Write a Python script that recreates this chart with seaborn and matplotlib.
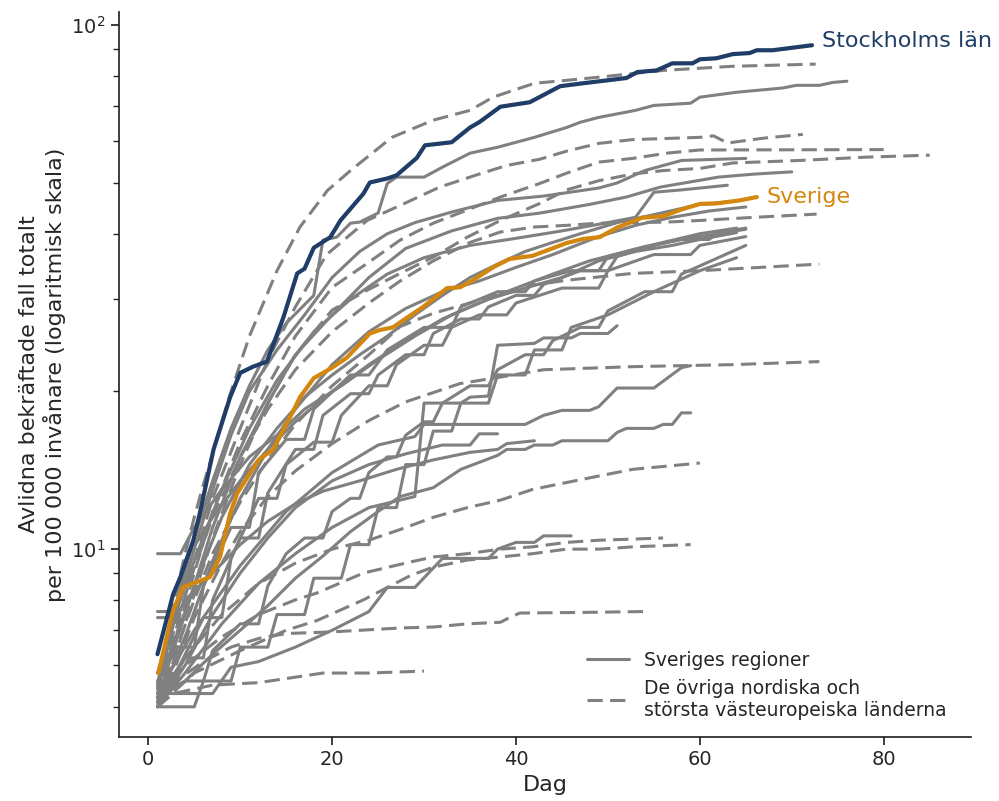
import matplotlib
matplotlib.use("Agg")
import matplotlib.pyplot as plt
from matplotlib.lines import Line2D
from matplotlib.ticker import NullFormatter
import pandas as pd
import seaborn as sns

# (dag, avlidna per 100 000)

stockholm = [(1, 6.3), (2.7, 8.2), (3.5, 8.85), (4.9, 10.4), (5.6, 11.7), (7.1, 15.5), (8.9, 19.5),
             (10, 21.7), (11.4, 22.3), (12.9, 22.8), (14.7, 27.7), (16.2, 33.6), (17, 34.3), (18, 37.6),
             (19.8, 39.4), (20.9, 42.4), (23.4, 47.7), (24.1, 50.1), (26, 51), (27, 51.7), (29.2, 55.8),
             (30.1, 59), (33, 59.8), (35, 63.8), (36, 65.3), (38.3, 69.9), (41.5, 71.3), (44.8, 76.5),
             (47.3, 77.5), (52, 79.3), (53.2, 81.4), (55.3, 82), (57, 84.6), (59.2, 84.6), (60, 86.1),
             (61.8, 86.5), (63.6, 88.1), (65.4, 88.5), (66.2, 89.6), (67.9, 89.6), (70.5, 90.8), (72.2, 91.6)]

sverige = [(1.1, 5.8), (2.7, 7.66), (3.8, 8.46), (6.7, 8.84), (7.8, 9.66), (8.9, 11.7), (9.7, 12.8),
           (12, 14.8), (13.6, 15.5), (15.8, 18.4), (16.5, 19.5), (18, 21.2), (20, 22.2), (21.6, 23.2),
           (24.1, 25.8), (25.2, 26.2), (26.6, 26.5), (28.2, 27.7), (29.9, 29), (32.5, 31.5), (33.9, 31.6),
           (35.3, 32.6), (37.5, 34.5), (39.3, 35.8), (41.8, 36.3), (43.6, 37.3), (45.5, 38.4), (47.3, 39.1),
           (49.1, 39.4), (51, 41.1), (53.7, 42.9), (56, 43.2), (58, 44.5), (60, 45.6), (61.8, 45.7),
           (64.3, 46.3), (66.2, 47)]

# Sveriges regioner (heldragna)
reg_1 = [(1, 5.5), (3, 7.8), (5, 10.5), (7, 13.5), (9, 17), (11, 20.5), (13, 24), (15, 27), (18, 30.5),
         (19, 38.9), (20.5, 39.4), (22, 41.9), (23, 42.1), (25, 43.8), (26, 49.9), (27, 51.3), (30, 51.3),
         (32, 53.6), (35, 57), (38, 58.5), (42, 61.1), (45.5, 63.8), (47, 65.3), (49, 66.7), (53, 68.8),
         (55, 70.3), (59, 71), (60, 72.9), (64, 74.5), (69, 75.9), (70.5, 76.8), (73, 76.8), (74.5, 77.8),
         (76, 78.2)]
reg_2 = [(1, 5.4), (3, 7.5), (5, 10), (7, 13), (9, 16.5), (11, 20), (14, 24), (17, 28), (20, 33), (23, 37),
         (26, 40), (29, 42), (33, 44), (38, 46.3), (43, 47.2), (49, 48.9), (51, 50), (54, 52.8), (58, 55.2),
         (65, 55.7)]
reg_3 = [(1, 5.2), (4, 7.5), (7, 11), (10, 15), (13, 19), (16, 23.5), (20, 28), (24, 33), (28, 37.5),
         (33, 40.5), (38, 42.8), (42.6, 43.8), (48, 45.5), (52, 47), (55.7, 49.1), (62, 51.3), (66, 52),
         (70, 52.5)]
reg_4 = [(1, 5.8), (3, 7.6), (5, 9.5), (8, 13), (11, 17), (14, 21), (18, 26), (22, 30), (26, 33.5),
         (30, 36), (35, 38), (40, 39.2), (45, 40.5), (50, 42), (53, 43), (55, 48), (58, 48.5), (63, 49.5)]
reg_5 = [(1, 5.1), (4, 6.8), (7, 9.5), (10, 12.5), (13, 15.5), (16, 18.5), (20, 22.5), (24, 26),
         (28, 28.8), (32, 31), (36, 32.5), (40, 34.5), (44, 36.5), (49, 39.5), (53, 41.5), (57, 43),
         (61, 44.2), (65, 45)]
reg_6 = [(1, 5.6), (3, 6.5), (5, 6.5), (6, 8.5), (9, 11), (11, 11), (12, 14), (15, 16.2), (17, 16.2),
         (18, 18.5), (22, 21.5), (24, 21.5), (26, 24), (30, 26.5), (33, 26.5), (34, 29), (38, 31), (41, 31),
         (42, 32.5), (46, 34), (49, 34), (50, 36.2), (54, 37.8), (58, 39), (61, 39), (62, 40.2), (65, 41)]
reg_7 = [(1, 7.6), (3, 7.6), (4, 9.5), (7, 11.5), (10, 13.5), (13, 15.5), (16, 17.5), (20, 20),
         (24, 22.5), (28, 25), (32, 27.5), (36, 29.5), (40, 31.5), (44, 33.5), (48, 35.5), (52, 37),
         (56, 38.5), (60, 40), (64, 41)]
reg_8 = [(1, 5.0), (4, 5.8), (8, 7.2), (12, 8.6), (16, 9.8), (20, 11), (24, 12), (29, 12.6), (30, 19),
         (34, 19), (35, 19.5), (37, 19.6), (38, 24.5), (42, 24.7), (43, 25.3), (46, 25.3), (47, 25.8),
         (50, 25.8), (51, 26.7)]
reg_9 = [(1, 5.2), (4, 5.6), (7, 6.3), (10, 7), (13, 7.8), (16, 8.8), (19, 9.7), (22, 10.8), (25, 11.8),
         (27.4, 12.6), (31, 13.1), (34, 14.2), (38, 15.1), (39, 15.5), (41, 15.5), (42, 15.8), (44, 15.8),
         (45, 16.1), (50, 16.1), (51, 16.7), (52, 17), (55, 17), (56, 17.3), (57, 17.3), (58, 18.2),
         (59, 18.2)]
reg_10 = [(1, 5.3), (7, 5.3), (9, 5.95), (12, 6.1), (16, 6.5), (20, 7), (24, 7.6), (26, 8.45), (29, 8.45),
          (32, 9.6), (37, 9.6), (38, 10), (40, 10.3), (42, 10.3), (43, 10.6), (46, 10.6)]
reg_11 = [(1, 5.0), (4, 6), (7, 7.5), (10, 9), (13, 10.5), (16, 12), (20, 13.5), (24, 14.5), (28, 15.2),
          (32, 15.8), (35, 15.8), (36, 16.6), (38, 16.6)]
reg_12 = [(1, 7.4), (3, 7.4), (4, 8), (7, 9), (10, 10.2), (13, 11.3), (16, 12.2), (19, 12.9), (23, 13.5),
          (27, 14.2), (31, 14.8), (35, 15.3), (38, 15.5), (39, 15.9), (42, 16.1)]
reg_13 = [(1, 5.3), (5, 7), (10, 9.3), (15, 11.8), (20, 14), (25, 15.8), (29, 16.4), (30, 17.3), (41, 17.3),
          (43, 18), (45, 18.4), (48, 18.4), (49, 18.7), (51, 20.3), (55, 20.3), (58, 22.2), (59, 22.4)]
reg_14 = [(1, 9.8), (3.5, 9.8), (5, 11), (8, 13), (11, 15), (14, 16.5), (17, 18.5), (21, 20.5), (25, 23),
          (29, 25.5), (33, 28), (37, 30), (41, 31.5), (45, 33), (49, 35.5), (53, 37), (57, 38), (60, 39),
          (64, 40.2)]
reg_15 = [(1, 5.1), (3, 5.8), (6, 7.4), (8, 7.4), (9, 9.6), (12, 12.5), (14, 12.5), (15, 14.5), (18, 16),
          (20, 16), (21, 18), (24, 20.5), (26, 20.5), (27, 22.5), (30, 24.5), (32, 24.5), (33, 26.5),
          (36, 28), (39, 28), (40, 29.5), (45, 31.5), (49, 31.5), (50, 34), (55, 36.5), (59, 36.5),
          (60, 38), (65, 39.5)]
reg_16 = [(1, 5.0), (4, 6.2), (6, 6.2), (7, 8), (10, 10.5), (12, 10.5), (13, 12.8), (16, 15.5), (18, 15.5),
          (19, 18), (22, 19.8), (24, 19.8), (25, 21.5), (28, 23.5), (30, 23.5), (31, 25.8), (34, 27.5),
          (36, 27.5), (37, 29), (40, 30.5), (42, 30.5), (43, 32), (47, 34), (50, 34), (51, 36.2), (55, 38),
          (58, 39), (62, 40), (65, 40.8)]
reg_17 = [(1, 5.5), (3, 6.8), (5, 8.5), (8, 11.5), (11, 14.5), (14, 17), (17, 19.5), (20, 21.5),
          (23, 23.5), (26, 25.5), (29, 28), (32, 30.5), (35, 33), (38, 35), (41, 37), (44, 38.5), (47, 40),
          (51, 42), (55, 43.5), (60, 45.5), (63, 46)]
reg_18 = [(1, 5.2), (4, 5.6), (6, 5.6), (7, 6.4), (10, 7.2), (12, 7.2), (13, 8.5), (15, 9.8), (17, 10.5),
          (19, 10.5), (20, 11.8), (22, 12.5), (23, 12.5), (24, 14), (26, 15), (27, 15), (28, 16.5),
          (30, 17.5), (31, 17.5), (32, 19), (35, 20.5), (37, 20.5), (38, 22), (41, 23.5), (43, 23.5),
          (44, 25), (47, 26.5), (49, 26.5), (50, 28.5), (54, 31), (57, 31), (58, 33.5), (62, 36), (65, 38)]
reg_19 = [(1, 5.0), (5, 5.0), (6, 5.6), (9, 5.6), (10, 6.5), (13, 6.5), (14, 7.5), (17, 7.5), (18, 8.8),
          (21, 8.8), (22, 10.2), (24, 10.2), (25, 12), (27, 12), (28, 14.5), (30, 14.5), (31, 16.8),
          (33, 16.8), (34, 19), (37, 19), (38, 21.5), (41, 21.5), (42, 24), (45, 24), (46, 26.5), (50, 28),
          (55, 31), (60, 34), (64, 36)]

# övriga länder (streckade)
land_1 = [(1, 5.5), (2, 6.8), (3, 8.2), (4, 9.8), (5, 11.5), (6, 13.3), (7, 15.2), (8, 17.5), (9, 20),
          (11, 25.5), (14, 34), (16.5, 41.2), (19.5, 48.4), (22, 52.8), (26.5, 61.1), (31, 65.9),
          (35, 68.8), (37.5, 72.9), (42, 77.5), (45.5, 78.5), (49, 79.6), (56, 82), (63.5, 83.5),
          (72.6, 84.3)]
land_2 = [(1, 5.3), (3, 7), (5, 9.5), (7, 12.5), (10, 17), (13, 23), (16, 29), (19.4, 36.5), (23.8, 42.4),
          (27.4, 45.3), (31.7, 49.1), (36, 52), (39, 54), (42.6, 55.5), (45.5, 57.5), (49, 59.5),
          (52.7, 60.5), (60, 61.1), (61.5, 61.5), (63, 59.6), (67, 60.9), (71.2, 61.9)]
land_3 = [(1, 5.2), (3, 6.8), (5, 9), (7, 11.8), (10, 16), (13, 20.5), (16, 25.5), (20, 31.6), (23.8, 35.1),
          (27.4, 38.9), (31, 41.9), (34.7, 44.4), (38.3, 47), (42.6, 49.9), (45.5, 52.2), (49, 54.8),
          (52.7, 55.7), (56.4, 57), (60, 57.8), (80, 57.9)]
land_4 = [(1, 5.0), (3, 6.3), (5, 8.2), (7, 10.5), (10, 14.5), (13, 19), (16, 23.5), (20, 28.6),
          (23.8, 31.2), (27.4, 33.6), (31, 36.1), (34.7, 39.4), (38.3, 42.4), (42.6, 45.7), (45.5, 48.5),
          (49, 50.5), (52.7, 52), (56, 52.8), (60, 53.3), (63.6, 54.6), (70.9, 55.2), (78, 56), (85, 56.5)]
land_5 = [(1, 5.4), (3, 7.2), (5, 9.2), (7, 11.5), (10, 15), (13, 18.5), (16, 22), (20, 26), (24, 29.5),
          (27.4, 32.5), (31, 35.5), (35, 38.5), (38.3, 40.3), (42, 41.2), (45.5, 41.5), (49, 41.9),
          (56.4, 42.1), (60, 42.4), (66, 43), (72.7, 43.6)]
land_6 = [(1, 5.1), (3, 6.4), (5, 8), (7, 9.8), (10, 12.3), (13, 14.8), (16, 17.3), (20, 20.5), (24, 23.5),
          (27.4, 26.6), (31, 28.2), (34.7, 29.4), (38.3, 30.8), (41.8, 31.9), (45.5, 32.6), (52.7, 33.6),
          (60, 34), (73, 35)]
land_7 = [(1, 5.0), (3, 6), (5, 7.4), (8, 9.4), (10, 10.8), (13, 12.6), (16, 14.1), (20, 15.9), (24, 17.6),
          (28, 19.1), (33.9, 20.7), (38.3, 21.3), (43, 22), (52.7, 22.3), (63.6, 22.5), (73, 22.8)]
land_8 = [(1, 5.2), (4, 6.2), (8, 7.5), (12, 8.6), (16, 9.4), (20, 10), (24, 10.4), (27.4, 10.9), (31, 11.5),
          (34.7, 12), (38.3, 12.4), (41.8, 13), (45.5, 13.4), (49.1, 13.8), (52.7, 14.2), (56.4, 14.4),
          (60, 14.6)]
land_9 = [(1, 5.2), (4, 6), (8, 6.8), (12, 7.5), (16, 8), (18.3, 8.24), (23.4, 9), (28.5, 9.45), (31, 9.66),
          (34.7, 9.8), (38.3, 10), (41.8, 10.1), (45.5, 10.3), (49.1, 10.4), (52.7, 10.45), (56, 10.5)]
land_10 = [(1, 5.0), (5, 5.8), (10, 6.4), (15, 7), (18.3, 7.3), (23.4, 8), (28.5, 8.9), (31, 9.24),
           (34.7, 9.53), (38.3, 9.66), (41.8, 9.8), (45.5, 10), (49.1, 10), (52.7, 10.1), (59, 10.2)]
land_11 = [(1, 5.0), (3, 5.6), (6, 6.1), (9, 6.5), (12, 6.75), (15, 6.9), (20, 6.95), (27.4, 7.07),
           (31, 7.1), (34.7, 7.2), (38.3, 7.25), (39.3, 7.4), (40.4, 7.55), (47, 7.57), (54, 7.6)]
land_12 = [(1, 5.0), (2.7, 5.3), (7, 5.5), (12, 5.56), (19, 5.8), (24, 5.8), (30, 5.85)]

regioner = [reg_1, reg_2, reg_3, reg_4, reg_5, reg_6, reg_7, reg_8, reg_9, reg_10, reg_11, reg_12,
            reg_13, reg_14, reg_15, reg_16, reg_17, reg_18, reg_19]
lander = [land_1, land_2, land_3, land_4, land_5, land_6, land_7, land_8, land_9, land_10, land_11,
          land_12]


def till_tabell(serier, prefix):
    rader = []
    for i, serie in enumerate(serier):
        for dag, varde in serie:
            rader.append({"dag": dag, "varde": varde, "enhet": f"{prefix}{i}"})
    return pd.DataFrame(rader)


df_reg = till_tabell(regioner, "r")
df_land = till_tabell(lander, "l")
df_sthlm = till_tabell([stockholm], "s")
df_sve = till_tabell([sverige], "sv")

GRA = "#808080"
BLA = "#1f3d66"
ORANGE = "#d4870f"

sns.set_theme(style="ticks")
plt.rcParams["font.family"] = ["DejaVu Sans"]

fig, ax = plt.subplots(figsize=(9.99, 8.01), dpi=100)
fig.subplots_adjust(left=0.119, right=0.972, bottom=0.080, top=0.985)

streck = (0, (5, 2.4))
sns.lineplot(data=df_land, x="dag", y="varde", units="enhet", estimator=None, color=GRA,
             linewidth=2.2, linestyle=streck, ax=ax)
sns.lineplot(data=df_reg, x="dag", y="varde", units="enhet", estimator=None, color=GRA,
             linewidth=2.2, ax=ax)
sns.lineplot(data=df_sve, x="dag", y="varde", units="enhet", estimator=None, color=ORANGE,
             linewidth=3.0, ax=ax)
sns.lineplot(data=df_sthlm, x="dag", y="varde", units="enhet", estimator=None, color=BLA,
             linewidth=3.0, ax=ax)

ax.set_yscale("log")
ax.set_xlim(-3.2, 89.5)
ax.set_ylim(4.38, 106)
ax.set_xticks([0, 20, 40, 60, 80])
ax.yaxis.set_minor_formatter(NullFormatter())
ax.tick_params(axis="both", labelsize=14)

ax.set_xlabel("Dag", fontsize=16)
ax.set_ylabel("Avlidna bekräftade fall totalt\nper 100 000 invånare (logaritmisk skala)", fontsize=16)

ax.text(stockholm[-1][0] + 1.1, stockholm[-1][1] * 1.02, "Stockholms län", color=BLA, fontsize=16,
        va="center", ha="left")
ax.text(sverige[-1][0] + 1.1, sverige[-1][1] * 1.0, "Sverige", color=ORANGE, fontsize=16,
        va="center", ha="left")

handles = [Line2D([], [], color=GRA, linewidth=2.2),
           Line2D([], [], color=GRA, linewidth=2.2, linestyle=streck)]
ax.legend(handles, ["Sveriges regioner", "De övriga nordiska och\nstörsta västeuropeiska länderna"],
          loc="lower left", bbox_to_anchor=(0.53, 0.0), frameon=False, fontsize=13.5,
          handlelength=2.2)

sns.despine(ax=ax)
fig.savefig("out.png", dpi=100)
